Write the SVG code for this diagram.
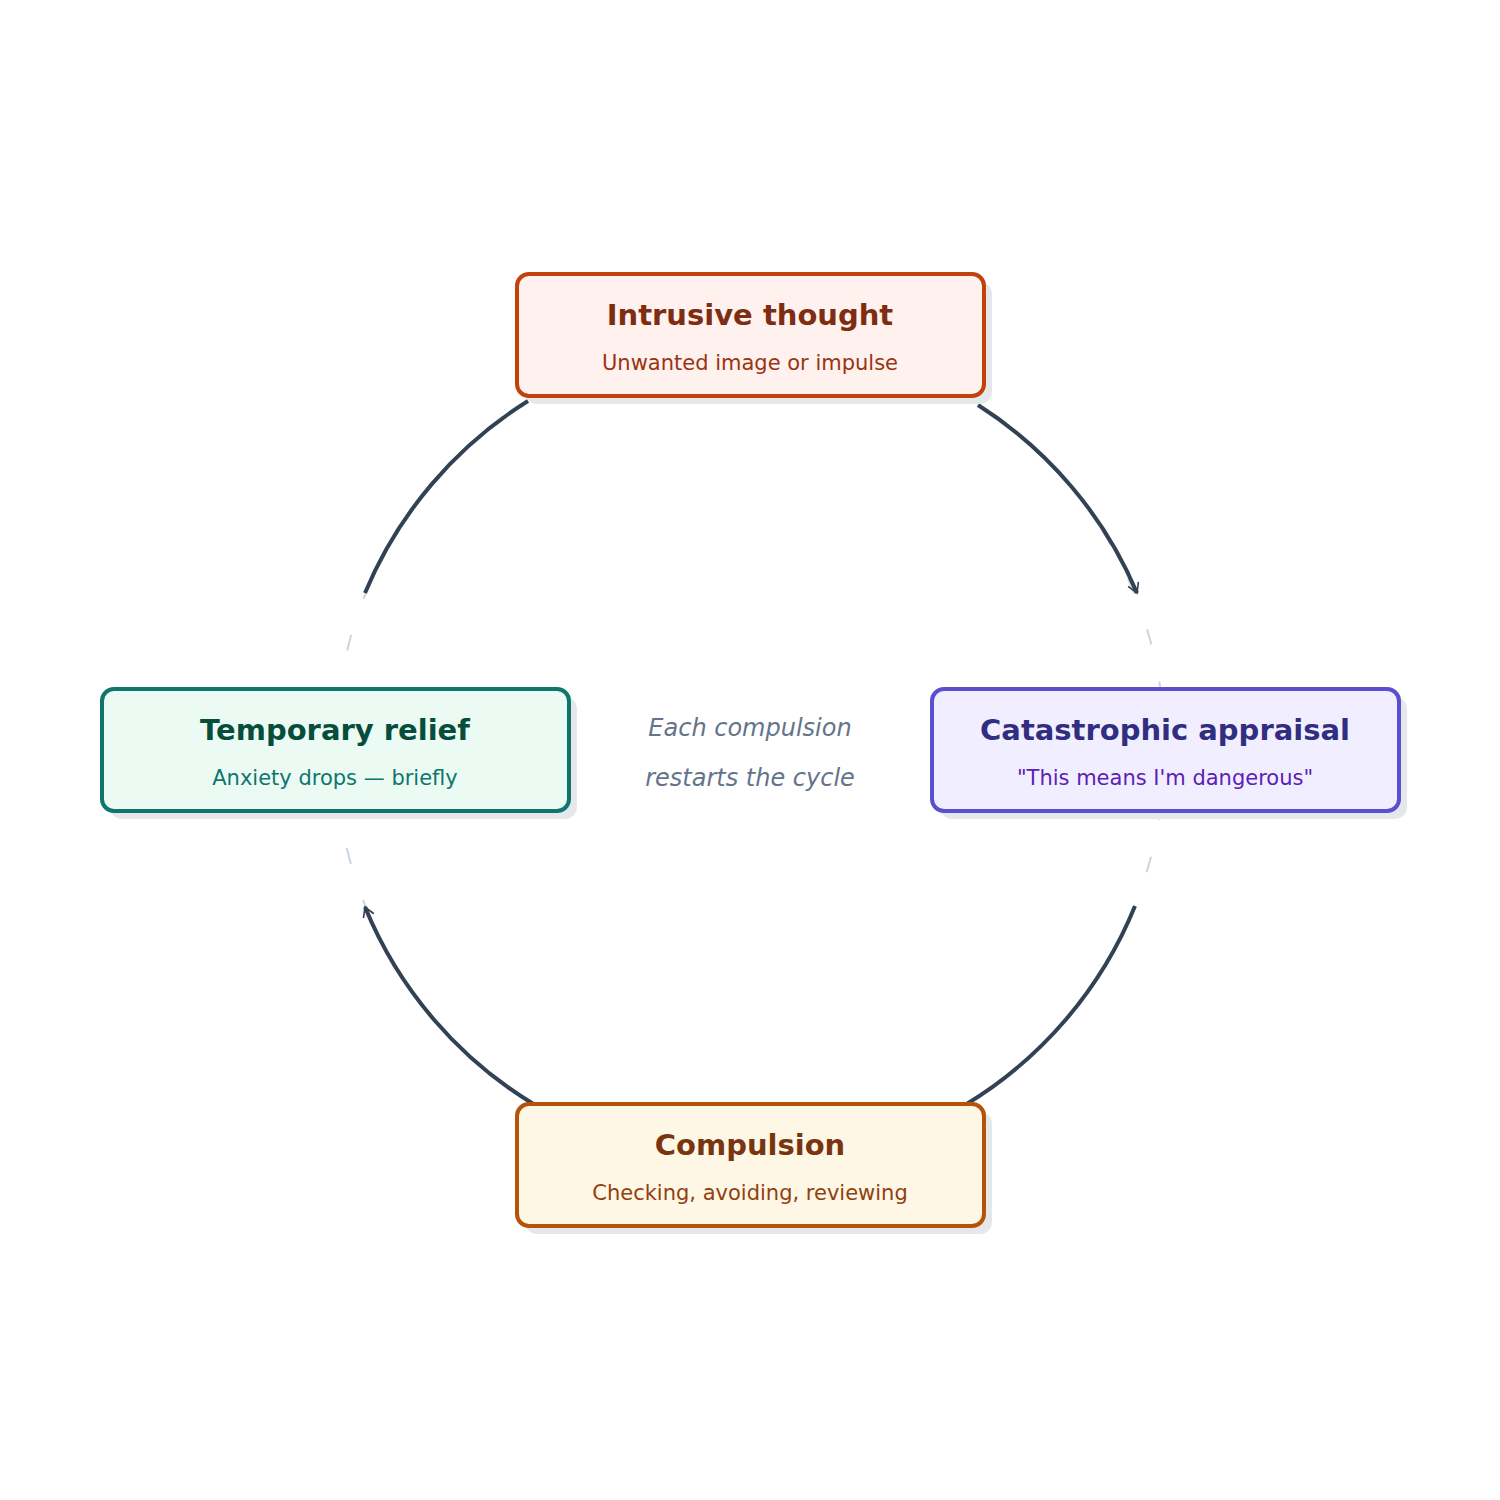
<svg xmlns="http://www.w3.org/2000/svg" width="1500" height="1500" viewBox="0 0 1500 1500">
<style>
.t{font-family:"DejaVu Sans",sans-serif;font-weight:bold;font-size:29px;text-anchor:middle}
.s{font-family:"DejaVu Sans",sans-serif;font-size:21px;text-anchor:middle}
.c{font-family:"DejaVu Sans",sans-serif;font-style:italic;font-size:24px;fill:#64748b;text-anchor:middle}
.sh{fill:#e5e7eb}
.arc{fill:none;stroke:#334155;stroke-width:4}
</style>
<defs>
<marker id="ah" viewBox="0 0 20 20" refX="16" refY="10" markerWidth="8" markerHeight="8" orient="auto" markerUnits="userSpaceOnUse" overflow="visible">
<polyline points="-8,-4 16,10 -8,24" transform="scale(1)" fill="none" stroke="#334155" stroke-width="4" stroke-linejoin="miter"/>
</marker>
</defs>
<rect width="1500" height="1500" fill="#fff"/>
<circle cx="750" cy="750" r="415" fill="none" stroke="#cbd5e1" stroke-width="2" stroke-dasharray="16 38"/>
<g id="connectors">
<path class="arc" d="M 978 405 A 415 415 0 0 1 1137 593" marker-end="url(#ah)"/>
<path class="arc" d="M 1135 906 A 415 415 0 0 1 965 1105"/>
<path class="arc" d="M 535 1105 A 415 415 0 0 1 365 907" marker-end="url(#ah)"/>
<path class="arc" d="M 365 593 A 415 415 0 0 1 528 401"/>
</g>
<g id="intrusive">
<rect class="sh" x="525" y="282" width="467" height="122" rx="12"/>
<rect x="517" y="274" width="467" height="122" rx="12" fill="#fff1ee" stroke="#c2410c" stroke-width="4"/>
<text class="t" x="750" y="325" fill="#7c2d12">Intrusive thought</text>
<text class="s" x="750" y="370" fill="#9a3412">Unwanted image or impulse</text>
</g>
<g id="appraisal">
<rect class="sh" x="940" y="697" width="467" height="122" rx="12"/>
<rect x="932" y="689" width="467" height="122" rx="12" fill="#f1efff" stroke="#5b4fcf" stroke-width="4"/>
<text class="t" x="1165" y="740" fill="#312e81">Catastrophic appraisal</text>
<text class="s" x="1165" y="785" fill="#5b21b6">"This means I'm dangerous"</text>
</g>
<g id="compulsion">
<rect class="sh" x="525" y="1112" width="467" height="122" rx="12"/>
<rect x="517" y="1104" width="467" height="122" rx="12" fill="#fef7e6" stroke="#b45309" stroke-width="4"/>
<text class="t" x="750" y="1155" fill="#78350f">Compulsion</text>
<text class="s" x="750" y="1200" fill="#92400e">Checking, avoiding, reviewing</text>
</g>
<g id="relief">
<rect class="sh" x="110" y="697" width="467" height="122" rx="12"/>
<rect x="102" y="689" width="467" height="122" rx="12" fill="#ebfaf3" stroke="#0f766e" stroke-width="4"/>
<text class="t" x="335" y="740" fill="#064e3b">Temporary relief</text>
<text class="s" x="335" y="785" fill="#0f766e">Anxiety drops — briefly</text>
</g>
<g id="center">
<text class="c" x="750" y="736">Each compulsion</text>
<text class="c" x="750" y="786">restarts the cycle</text>
</g>
</svg>
